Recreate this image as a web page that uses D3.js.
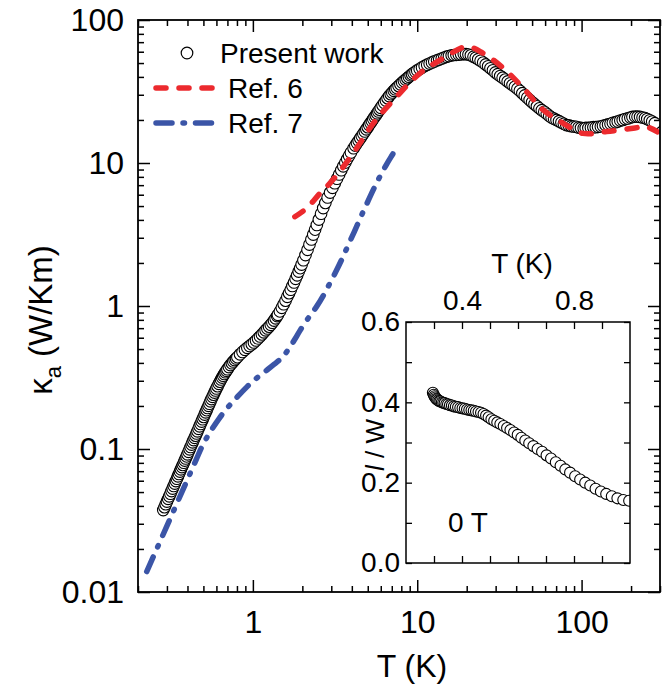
<!DOCTYPE html>
<html>
<head>
<meta charset="utf-8">
<script src="https://cdn.jsdelivr.net/npm/d3@7"></script>
<style>
body { margin: 0; background: #fff; }
text { font-family: "Liberation Sans", Arial, Helvetica, sans-serif; fill: #000; }
</style>
</head>
<body>
<svg width="669" height="690"></svg>
<script>
// values: [T (K), kappa_a (W/Km)]
const presentWork = [
[0.285,0.0374],[0.29,0.0392],[0.295,0.0411],[0.30,0.0429],[0.305,0.0448],[0.31,0.0467],[0.315,0.0487],[0.32,0.0508],[0.325,0.0529],[0.33,0.0551],[0.335,0.0573],[0.34,0.0597],[0.345,0.0620],[0.35,0.0644],[0.355,0.0669],[0.36,0.0695],[0.365,0.0721],[0.37,0.0747],[0.375,0.0774],[0.38,0.0802],[0.385,0.0830],[0.39,0.0859],[0.395,0.0888],[0.40,0.0918],[0.406,0.0956],[0.412,0.0994],[0.418,0.1033],[0.424,0.1073],[0.430,0.1114],[0.436,0.1155],[0.442,0.1197],[0.448,0.1240],[0.454,0.1284],[0.460,0.1330],[0.467,0.1384],[0.474,0.1440],[0.481,0.1497],[0.488,0.1555],[0.495,0.1615],[0.502,0.1677],[0.509,0.1740],[0.516,0.1804],[0.523,0.1870],[0.530,0.1937],[0.537,0.2005],[0.544,0.2075],[0.552,0.2156],[0.560,0.2236],[0.568,0.2317],[0.576,0.2399],[0.584,0.2482],[0.592,0.2565],[0.600,0.2648],[0.610,0.2751],[0.620,0.2855],[0.630,0.2958],[0.640,0.3061],[0.650,0.3159],[0.660,0.3256],[0.670,0.3349],[0.680,0.3441],[0.690,0.3529],[0.700,0.3615],[0.715,0.3741],[0.730,0.3862],[0.745,0.3978],[0.760,0.4090],[0.775,0.4195],[0.790,0.4295],[0.805,0.4390],[0.835,0.459],[0.865,0.477],[0.895,0.494],[0.925,0.510],[0.955,0.525],[0.985,0.540],[1.015,0.556],[1.045,0.574],[1.075,0.593],[1.105,0.612],[1.135,0.633],[1.165,0.654],[1.195,0.676],[1.225,0.696],[1.255,0.717],[1.285,0.739],[1.315,0.764],[1.345,0.791],[1.375,0.820],[1.405,0.850],
[1.42,0.868],[1.46,0.917],[1.50,0.971],[1.54,1.03],[1.58,1.09],[1.62,1.16],[1.66,1.23],[1.70,1.30],[1.74,1.38],[1.78,1.46],[1.82,1.55],[1.86,1.64],[1.90,1.74],[1.94,1.84],[1.98,1.95],[2.03,2.09],[2.09,2.27],[2.15,2.47],[2.21,2.69],[2.27,2.92],[2.33,3.16],[2.39,3.42],[2.45,3.69],[2.52,4.02],[2.60,4.42],[2.68,4.84],[2.76,5.26],[2.85,5.74],[2.95,6.21],[3.05,6.71],[3.15,7.22],[3.25,7.76],[3.35,8.32],[3.45,8.90],[3.55,9.48],[3.65,10.06],[3.75,10.65],[3.85,11.24],[3.95,11.83],
[4.10,12.68],[4.20,13.23],[4.30,13.78],[4.40,14.33],[4.50,14.89],[4.60,15.46],[4.70,16.03],[4.80,16.62],[4.90,17.21],[5.00,17.81],[5.10,18.42],[5.20,19.04],[5.30,19.67],[5.40,20.31],[5.50,20.95],[5.60,21.60],[5.70,22.26],[5.80,22.93],[5.90,23.61],[6.00,24.30],[6.15,25.31],[6.30,26.34],[6.45,27.38],[6.60,28.41],[6.75,29.45],[6.90,30.30],[7.05,31.16],[7.20,31.99],[7.35,32.83],[7.50,33.60],[7.70,34.6],[7.90,35.5],[8.10,36.5],[8.30,37.4],[8.50,38.3],[8.70,39.2],[8.90,40.1],[9.10,41.0],[9.30,41.8],[9.50,42.6],[9.75,43.5],
[10.0,44.4],[10.35,45.5],[10.7,46.6],[11.1,47.7],[11.5,48.7],[11.9,49.6],[12.3,50.5],[12.7,51.3],[13.2,52.2],[13.6,52.9],[14.1,53.7],[14.6,54.6],[15.1,55.4],[15.6,56.0],[16.2,56.6],[16.7,56.9],[17.3,57.1],[17.9,57.3],[18.5,57.5],[19.2,57.8],[19.8,57.7],[20.5,57.3],[21.2,56.6],[22.0,55.4],[22.7,54.4],[23.5,53.2],[24.3,51.9],[25.2,50.4],[26.1,48.9],[27.0,47.5],[27.9,46.0],[28.9,44.5],[29.9,43.0],[30.9,41.8],[32.0,40.6],[33.1,39.5],[34.3,38.3],[35.5,37.2],[36.7,36.1],[38.0,35.1],[39.3,34.1],[40.7,33.1],[42.1,32.0],[43.6,30.8],[45.1,29.7],[46.7,28.6],[48.3,27.6],[50.0,26.6],[51.7,25.8],[53.5,24.9],[55.4,24.1],[57.3,23.4],[59.3,22.8],[61.4,22.1],[63.5,21.4],[65.7,20.8],[68.0,20.4],[70.4,20.0],[72.9,19.6],[75.4,19.2],[78.0,18.8],[80.8,18.4],[83.6,18.3],[86.5,18.1],[89.5,18.0],[92.6,17.9],[95.9,17.7],[99.2,17.6],[103,17.5],[106,17.6],[110,17.6],[114,17.7],[118,17.8],[122,17.8],[126,17.9],[131,18.0],[135,18.2],[140,18.4],[145,18.6],[150,18.8],[155,19.1],[161,19.3],[166,19.5],[172,19.8],[178,20.0],[184,20.3],[191,20.5],[198,20.8],[204,21.0],[212,21.1],[219,21.1],[227,21.0],[235,20.8],[243,20.6],[251,20.3],[260,19.9],[269,19.5],[279,19.0]
];

const ref6 = [
[1.80,4.21],[2.12,4.82],[2.56,6.14],[2.94,7.21],[3.55,9.42],[4.28,12.7],[5.40,18.95],[7.49,29.1],[10.38,42.4],[14.4,54.0],[20.0,65.1],[25.2,58.5],[33.3,46.2],[44.1,33.5],[58.4,23.5],[77.3,18.95],[102,16.1],[142,16.6],[206,17.5],[248,17.9],[290,16.5]
];

const ref7 = [
[0.226,0.0139],[0.26,0.0200],[0.30,0.0290],[0.35,0.0433],[0.40,0.0613],[0.45,0.0833],[0.50,0.109],[0.56,0.136],[0.62,0.162],[0.70,0.194],[0.80,0.230],[0.92,0.272],[1.05,0.312],[1.2,0.352],[1.35,0.392],[1.5,0.435],[1.65,0.50],[1.8,0.585],[1.93,0.67],[2.2,0.84],[2.44,0.99],[2.7,1.20],[2.94,1.44],[3.2,1.74],[3.45,2.08],[3.72,2.52],[4.0,3.03],[4.28,3.60],[4.6,4.35],[4.92,5.15],[5.3,6.2],[5.66,7.25],[6.05,8.4],[6.51,9.8],[6.95,11.1],[7.42,12.5]
];

// inset: [T (K), l / W]
const insetData = [
[0.296,0.424],[0.299,0.419],[0.302,0.415],[0.305,0.412],[0.308,0.409],[0.311,0.407],[0.315,0.405],[0.319,0.403],[0.323,0.402],[0.328,0.400],[0.333,0.399],[0.338,0.398],[0.344,0.396],[0.350,0.395],[0.357,0.393],[0.364,0.392],[0.371,0.390],[0.378,0.389],[0.386,0.388],[0.394,0.386],[0.402,0.385],[0.410,0.384],[0.418,0.382],[0.426,0.381],[0.434,0.380],[0.442,0.379],[0.450,0.377],[0.459,0.376],[0.468,0.374],[0.477,0.371],[0.486,0.367],[0.495,0.363],[0.505,0.358],[0.515,0.354],[0.526,0.350],[0.537,0.346],[0.549,0.341],[0.561,0.336],[0.573,0.331],[0.586,0.325],[0.599,0.319],[0.612,0.312],[0.626,0.305],[0.640,0.298],[0.655,0.291],[0.670,0.284],[0.686,0.277],[0.702,0.268],[0.718,0.260],[0.735,0.251],[0.752,0.242],[0.769,0.233],[0.786,0.225],[0.804,0.216],[0.822,0.208],[0.840,0.200],[0.858,0.193],[0.877,0.185],[0.896,0.178],[0.915,0.172],[0.935,0.166],[0.955,0.161],[0.976,0.157],[0.997,0.155]
];

const xMajor = [1, 10, 100];
const yMajor = [0.01, 0.1, 1, 10, 100];
const insetYTicks = [0, 0.1, 0.2, 0.3, 0.4, 0.5, 0.6];
const insetYLabels = [0, 0.2, 0.4, 0.6];
const insetXTicks = [0.3, 0.4, 0.5, 0.6, 0.7, 0.8, 0.9];
const insetXLabels = [0.4, 0.8];
const legendItems = ['Present work', 'Ref. 6', 'Ref. 7'];

const svg = d3.select('svg');
const red = '#ec2a2e';
const blue = '#3b55a7';

const plotL = 138, plotR = 660, plotT = 20, plotB = 592;

const x = d3.scaleLog().domain([0.2, 300]).range([plotL, plotR]);
const y = d3.scaleLog().domain([0.01, 100]).range([plotB, plotT]);

const isDecade = v => Math.abs(Math.log10(v) - Math.round(Math.log10(v))) < 1e-6;
const xMinor = x.ticks().filter(v => !isDecade(v));
const yMinor = y.ticks().filter(v => !isDecade(v));

// clip for the data
svg.append('clipPath').attr('id', 'main-clip')
  .append('rect').attr('x', plotL).attr('y', plotT)
  .attr('width', plotR - plotL).attr('height', plotB - plotT);

const plot = svg.append('g').attr('clip-path', 'url(#main-clip)');

plot.selectAll('circle')
  .data(presentWork)
  .enter().append('circle')
    .attr('cx', d => x(d[0]))
    .attr('cy', d => y(d[1]))
    .attr('r', 5.8)
    .attr('fill', '#fff')
    .attr('stroke', '#000')
    .attr('stroke-width', 1.1);

const line = d3.line()
  .x(d => x(d[0]))
  .y(d => y(d[1]))
  .curve(d3.curveCatmullRom);

plot.append('path')
  .attr('d', line(ref6))
  .attr('fill', 'none')
  .attr('stroke', red)
  .attr('stroke-width', 5.5)
  .attr('stroke-linecap', 'round')
  .attr('stroke-dasharray', '10,13');

plot.append('path')
  .attr('d', line(ref7))
  .attr('fill', 'none')
  .attr('stroke', blue)
  .attr('stroke-width', 5.5)
  .attr('stroke-linecap', 'round')
  .attr('stroke-dasharray', '16,11,1.5,11');

// axes, ticks pointing inwards on all four sides
const fontSize = 32;
function styleAxis(g) {
  g.select('.domain').remove();
  g.selectAll('.tick line').attr('stroke', '#000').attr('stroke-width', 1.5);
  g.selectAll('.tick text').attr('font-size', fontSize).attr('fill', '#000');
}

svg.append('g').attr('transform', `translate(0,${plotB})`)
  .call(d3.axisBottom(x).tickValues(xMajor).tickSize(-12).tickPadding(18).tickFormat(d => d))
  .call(styleAxis);
svg.append('g').attr('transform', `translate(0,${plotB})`)
  .call(d3.axisBottom(x).tickValues(xMinor).tickSize(-6).tickFormat(''))
  .call(styleAxis);
svg.append('g').attr('transform', `translate(0,${plotT})`)
  .call(d3.axisTop(x).tickValues(xMajor).tickSize(-12).tickFormat(''))
  .call(styleAxis);
svg.append('g').attr('transform', `translate(0,${plotT})`)
  .call(d3.axisTop(x).tickValues(xMinor).tickSize(-6).tickFormat(''))
  .call(styleAxis);

svg.append('g').attr('transform', `translate(${plotL},0)`)
  .call(d3.axisLeft(y).tickValues(yMajor).tickSize(-12).tickPadding(14).tickFormat(d => d))
  .call(styleAxis);
svg.append('g').attr('transform', `translate(${plotL},0)`)
  .call(d3.axisLeft(y).tickValues(yMinor).tickSize(-6).tickFormat(''))
  .call(styleAxis);
svg.append('g').attr('transform', `translate(${plotR},0)`)
  .call(d3.axisRight(y).tickValues(yMajor).tickSize(-12).tickFormat(''))
  .call(styleAxis);
svg.append('g').attr('transform', `translate(${plotR},0)`)
  .call(d3.axisRight(y).tickValues(yMinor).tickSize(-6).tickFormat(''))
  .call(styleAxis);

svg.append('rect')
  .attr('x', plotL).attr('y', plotT)
  .attr('width', plotR - plotL).attr('height', plotB - plotT)
  .attr('fill', 'none').attr('stroke', '#000').attr('stroke-width', 1.8);

// axis titles
svg.append('text')
  .attr('x', 412).attr('y', 677)
  .attr('text-anchor', 'middle').attr('font-size', 32)
  .text('T (K)');

const yTitle = svg.append('text')
  .attr('transform', 'translate(52,320) rotate(-90)')
  .attr('text-anchor', 'middle').attr('font-size', 33);
yTitle.append('tspan').text('κ');
yTitle.append('tspan').attr('font-size', 22).attr('dy', 9).text('a');
yTitle.append('tspan').attr('dy', -9).text(' (W/Km)');

// legend
const legend = svg.append('g');
legend.append('circle').attr('cx', 187).attr('cy', 53).attr('r', 5.8)
  .attr('fill', '#fff').attr('stroke', '#000').attr('stroke-width', 1.2);
legend.append('line').attr('x1', 156).attr('x2', 215).attr('y1', 88).attr('y2', 88)
  .attr('stroke', red).attr('stroke-width', 5.5).attr('stroke-linecap', 'round')
  .attr('stroke-dasharray', '10,13');
legend.append('line').attr('x1', 156).attr('x2', 217).attr('y1', 123).attr('y2', 123)
  .attr('stroke', blue).attr('stroke-width', 5.5).attr('stroke-linecap', 'round')
  .attr('stroke-dasharray', '16,11,1.5,11');
legend.selectAll('text')
  .data(legendItems)
  .enter().append('text')
    .attr('x', (d, i) => i === 0 ? 220 : 228)
    .attr('y', (d, i) => 63 + i * 35)
    .attr('font-size', 28)
    .text(d => d);

// inset
const iLeft = 406, iRight = 630, iTop = 322, iBottom = 563;
const xi = d3.scaleLinear().domain([0.2, 1.0]).range([iLeft, iRight]);
const yi = d3.scaleLinear().domain([0, 0.6]).range([iBottom, iTop]);
const inset = svg.append('g');

inset.append('rect')
  .attr('x', iLeft).attr('y', iTop)
  .attr('width', iRight - iLeft).attr('height', iBottom - iTop)
  .attr('fill', '#fff');

svg.append('clipPath').attr('id', 'inset-clip')
  .append('rect').attr('x', iLeft).attr('y', iTop)
  .attr('width', iRight - iLeft).attr('height', iBottom - iTop);

inset.append('g').attr('clip-path', 'url(#inset-clip)')
  .selectAll('circle')
  .data(insetData)
  .enter().append('circle')
    .attr('cx', d => xi(d[0]))
    .attr('cy', d => yi(d[1]))
    .attr('r', 5.5)
    .attr('fill', '#fff')
    .attr('stroke', '#000')
    .attr('stroke-width', 1.1);

const insetFont = 28;
function styleInset(g) {
  g.select('.domain').remove();
  g.selectAll('.tick line').attr('stroke', '#000').attr('stroke-width', 1.3);
  g.selectAll('.tick text').attr('font-size', insetFont).attr('fill', '#000');
}

inset.append('g').attr('transform', `translate(${iLeft},0)`)
  .call(d3.axisLeft(yi).tickValues(insetYTicks).tickSize(-6).tickPadding(6)
    .tickFormat(d => insetYLabels.includes(d) ? d3.format('.1f')(d) : ''))
  .call(styleInset);
inset.append('g').attr('transform', `translate(${iRight},0)`)
  .call(d3.axisRight(yi).tickValues(insetYTicks).tickSize(-6).tickFormat(''))
  .call(styleInset);
inset.append('g').attr('transform', `translate(0,${iTop})`)
  .call(d3.axisTop(xi).tickValues(insetXTicks).tickSize(-7).tickPadding(12)
    .tickFormat(d => insetXLabels.includes(d) ? d3.format('.1f')(d) : ''))
  .call(styleInset);
inset.append('g').attr('transform', `translate(0,${iBottom})`)
  .call(d3.axisBottom(xi).tickValues(insetXTicks).tickSize(-7).tickFormat(''))
  .call(styleInset);

inset.append('rect')
  .attr('x', iLeft).attr('y', iTop)
  .attr('width', iRight - iLeft).attr('height', iBottom - iTop)
  .attr('fill', 'none').attr('stroke', '#000').attr('stroke-width', 1.5);

inset.append('text')
  .attr('x', 522).attr('y', 273)
  .attr('text-anchor', 'middle').attr('font-size', insetFont)
  .text('T (K)');

const iyTitle = inset.append('text')
  .attr('transform', 'translate(384,445) rotate(-90)')
  .attr('text-anchor', 'middle').attr('font-size', 26);
iyTitle.append('tspan').attr('font-style', 'italic').text('l');
iyTitle.append('tspan').text(' / W');

inset.append('text')
  .attr('x', 448).attr('y', 532)
  .attr('font-size', insetFont)
  .text('0 T');
</script>
</body>
</html>
